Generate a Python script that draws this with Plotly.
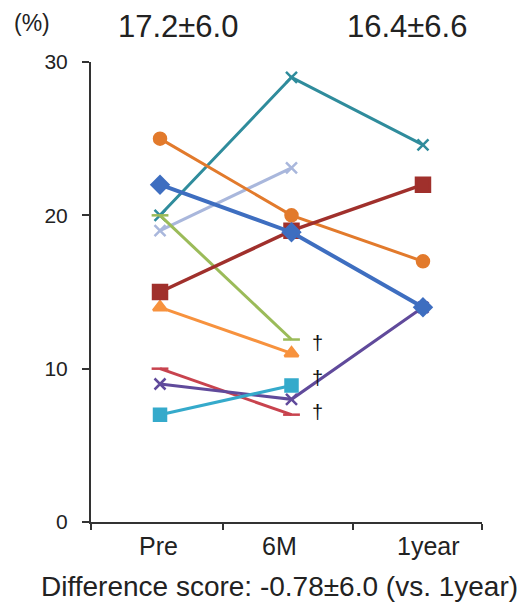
import plotly.graph_objects as go

# ---- data ----
categories = ["Pre", "6M", "1year"]

teal_x      = [20, 29, 24.6]
orange_circ = [25, 20, 17]
darkred_sq  = [15, 19, 22]
blue_diam   = [22, 18.9, 14]
lavender_x  = [19, 23.1, None]
green_dash  = [20, 11.9, None]
orange_tri  = [14, 11, None]
red_dash    = [10, 7, None]
purple_x    = [9, 8, 14]
cyan_sq     = [7, 8.9, None]

dagger_y = [11.7, 9.4, 7.2]

mean_pre = "17.2±6.0"
mean_1y = "16.4±6.6"
footer = "Difference score: -0.78±6.0 (vs. 1year)"
yticks = [0, 10, 20, 30]

FONT = "Arial, Liberation Sans, sans-serif"
xs = [0, 1, 2]

series = [
    (teal_x,      "#2F8C9C", "x-thin",        11, 3),
    (lavender_x,  "#A9B7DC", "x-thin",        11, 3),
    (orange_circ, "#E27A2C", "circle",        12, 3),
    (green_dash,  "#9BBB59", "line-ew",       12, 3),
    (orange_tri,  "#F7923E", "triangle-up",   12, 3),
    (red_dash,    "#C8434E", "line-ew",       12, 3),
    (purple_x,    "#604A9B", "x-thin",        11, 3),
    (cyan_sq,     "#35AACB", "square",        12, 3),
    (darkred_sq,  "#A0302C", "square",        14, 3.5),
    (blue_diam,   "#3E6EC0", "diamond",       13, 4),
]

W, H = 529, 606
ML, MR, MT, MB = 91, 47, 62, 84
pw, ph = W - ML - MR, H - MT - MB


def px2paper(px, py):
    return (px - ML) / pw, 1 - (py - MT) / ph


fig = go.Figure()
for vals, col, sym, size, lw in series:
    fig.add_trace(go.Scatter(
        x=xs, y=vals, mode="lines+markers",
        line=dict(color=col, width=lw),
        marker=dict(symbol=sym, size=size, color=col,
                    line=dict(color=col, width=2.5)),
        connectgaps=False, showlegend=False, hoverinfo="skip",
    ))

# category labels
label_x = [-0.015, 0.91, 2.04]
for cx, lab in zip(label_x, categories):
    fig.add_annotation(x=cx, y=0, xref="x", yref="y", text=lab, showarrow=False,
                       xanchor="center", yanchor="middle", yshift=-24,
                       font=dict(family=FONT, size=25, color="#222"))

# daggers
for dy in dagger_y:
    fig.add_annotation(x=1.2, y=dy, xref="x", yref="y", text="†", showarrow=False,
                       xanchor="center", yanchor="middle",
                       font=dict(family=FONT, size=20, color="#111"))

# header & footer texts (window pixel centres)
for (px, py), txt, fs in [((32, 23), "(%)", 23),
                          ((178, 27), mean_pre, 31),
                          ((407, 27), mean_1y, 31),
                          ((279, 586), footer, 28)]:
    ax, ay = px2paper(px, py)
    fig.add_annotation(x=ax, y=ay, xref="paper", yref="paper", text=txt,
                       showarrow=False, xanchor="center", yanchor="middle",
                       font=dict(family=FONT, size=fs, color="#222"))

fig.update_layout(
    width=W, height=H,
    margin=dict(l=ML, r=MR, t=MT, b=MB, autoexpand=False),
    paper_bgcolor="white", plot_bgcolor="white",
    font=dict(family=FONT, color="#222"),
    xaxis=dict(range=[-0.525, 2.449], showgrid=False, zeroline=False,
               showline=True, linecolor="#333", linewidth=2,
               tickvals=[-0.525, 0.479, 1.468, 2.449], ticktext=["", "", "", ""],
               ticks="outside", ticklen=6, tickwidth=2, tickcolor="#333"),
    yaxis=dict(range=[0, 30], showgrid=False, zeroline=False,
               showline=True, linecolor="#333", linewidth=2,
               tickvals=yticks, ticks="outside", ticklen=7, tickwidth=2,
               ticklabelstandoff=10,
               tickcolor="#333", tickfont=dict(family=FONT, size=21, color="#222")),
)

fig.write_html("out.html",
               config={"displayModeBar": False, "staticPlot": True},
               post_script="document.body.style.margin='0';"
                           "document.body.style.overflow='hidden';")
